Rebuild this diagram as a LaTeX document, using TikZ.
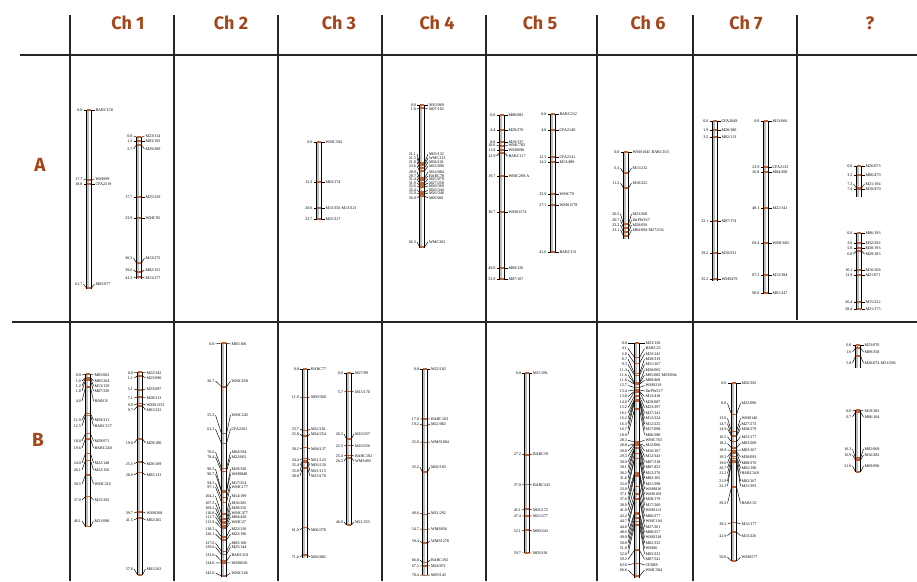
\documentclass[tikz,border=0pt]{standalone}
\usepackage{fontspec}
\setmainfont{Liberation Serif}
\newfontfamily\hdfont{Fira Sans}
\definecolor{hdbrown}{HTML}{A5461A}
\definecolor{mkorange}{HTML}{C2622E}
\newcounter{mkc}
\tikzset{
  tabline/.style={line width=1.1pt,black!85},
  barline/.style={line width=0.55pt,black},
  tickline/.style={line width=0.45pt,black},
  cmlab/.style={inner sep=0pt,font=\fontsize{4.1}{4.1}\selectfont},
  nmlab/.style={inner sep=0pt,font=\fontsize{4.1}{4.1}\selectfont},
  hdlab/.style={inner sep=0pt,text=hdbrown,font=\hdfont\bfseries\fontsize{18}{18}\selectfont},
  rowlab/.style={inner sep=0pt,text=hdbrown,font=\hdfont\bfseries\fontsize{19}{19}\selectfont}
}
% bar: x, top, bottom, scale (px per cM)
\newcommand\chbar[4]{%
  \def\bx{#1}\def\btop{#2}\def\bsc{#4}%
  \fill[gray!50] (#1-2.5,#2) rectangle (#1+2.5,#3);
  \fill[white] (#1+0.4,#2) rectangle (#1+2.5,#3);
  \draw[barline] (#1-2.5,#2) -- (#1-2.5,#3) (#1+2.5,#2) -- (#1+2.5,#3);
}
\newcommand\setoff[2]{\def\lo{#1}\def\ro{#2}}
% explicit tick: ytick, cM, ylabel, name
\newcommand\mkt[4]{%
  \stepcounter{mkc}%
  \fill[mkorange] (\bx-2.2,#1-0.75) rectangle (\bx+2.2,#1+0.75);
  \draw[tickline] (\bx-2.5,#1) -- (\bx-\lo,#3) (\bx+2.5,#1) -- (\bx+\ro,#3);
  \node[cmlab,anchor=east] (c\themkc) at (\bx-\lo-0.8,#3) {#2};
  \node[nmlab,anchor=west] (n\themkc) at (\bx+\ro+0.8,#3) {#4};
}
% linear tick: cM, ylabel, name
\newcommand\mk[3]{%
  \pgfmathsetmacro\yt{\btop+\bsc*#1}%
  \mkt{\yt}{#1}{#2}{#3}%
}
\begin{document}
\begin{tikzpicture}[x=1pt,y=-1pt]
\useasboundingbox (0,0) rectangle (917,581);
\fill[white] (0,0) rectangle (917,581);
% table lines
\draw[tabline] (20,55) -- (917,55);
\draw[tabline] (12,322) -- (917,322);
\foreach \xx in {70,174,278,382,486,597,693} {\draw[tabline] (\xx,15) -- (\xx,581);}
\draw[tabline] (797,15) -- (797,320);
% headers
\node[hdlab] (h1) at (128,23) {Ch 1};
\node[hdlab] (h2) at (231,23) {Ch 2};
\node[hdlab] (h3) at (339,23) {Ch 3};
\node[hdlab] (h4) at (437,23) {Ch 4};
\node[hdlab] (h5) at (540,23) {Ch 5};
\node[hdlab] (h6) at (648,23) {Ch 6};
\node[hdlab] (h7) at (746,23) {Ch 7};
\node[hdlab] (h8) at (870,23) {?};
\node[rowlab] (ra) at (40,165) {A};
\node[rowlab] (rb) at (38,440) {B};

%%%%%%%% ROW A
\setoff{5.5}{5.5}
% Ch1 A
\chbar{89}{110}{289}{1}
\mkt{110}{0.0}{110}{BARC158}
\mkt{180}{17.7}{179}{WMS99}
\mkt{184}{18.8}{184}{CFA2219}
\mkt{288}{61.7}{284}{M05/077}
\chbar{139}{137}{279}{1}
\mkt{137}{0.0}{136}{M23/314}
\mkt{141}{1.3}{141}{M03/192}
\mkt{145}{2.7}{149}{M29/289}
\mkt{197}{17.7}{197}{M25/329}
\mkt{218}{23.9}{218}{WMC93}
\mkt{263}{36.2}{258}{M13/272}
\mkt{272}{39.6}{270}{M02/155}
\mkt{277}{41.3}{278}{M13/277}
% Ch3 A
\chbar{319}{142}{220}{1}
\mkt{142}{0.0}{142}{WMC594}
\mkt{182}{12.3}{182}{M03/174}
\mkt{208}{20.6}{208}{M13/350 M13/321}
\mkt{219}{23.7}{219}{M25/317}
% Ch4 A
\setoff{5}{6}
\chbar{422}{105}{248}{1}
\mkt{105}{0.0}{105}{M10/069}
\mkt{108}{1.0}{109}{M07/162}
\mkt{163}{21.1}{154}{M03/132}
\mkt{165}{21.5}{158}{WMC313}
\mkt{168}{21.8}{162}{M04/101}
\mkt{171}{23.6}{166}{M22/090}
\mkt{178}{28.9}{172}{M14/084}
\mkt{180}{29.7}{176}{BARC78}
\mkt{183}{31.4}{179}{M25/079}
\mkt{185}{31.9}{183}{M27/250}
\mkt{187}{32.6}{186}{M20/369}
\mkt{192}{35.4}{190}{M26/344}
\mkt{194}{35.9}{193}{M26/346}
\mkt{196}{36.0}{198}{M06/061}
\mkt{247}{66.3}{242}{WMC262}
% Ch5 A
\setoff{5.5}{5.5}
\chbar{502}{115}{280}{1}
\mkt{115}{0.0}{115}{M08/082}
\mkt{130}{4.4}{130}{M29/270}
\mkt{142}{8.8}{142}{M19/137}
\mkt{146}{10.6}{145.5}{WMC783}
\mkt{150}{11.8}{150}{WMS096}
\mkt{153}{12.9}{156}{BARC117}
\mkt{176}{19.7}{176}{WMC289-A}
\mkt{212}{30.7}{212}{WMS1574}
\mkt{268}{49.0}{268}{M09/126}
\mkt{279}{52.9}{279}{M07/107}
\chbar{553}{114}{253}{1}
\mkt{114}{0.0}{114}{BARC232}
\mkt{130}{4.8}{130}{CFA2149}
\mkt{157}{12.3}{157}{CFA2141}
\mkt{162}{14.2}{162}{M13/489}
\mkt{194}{23.9}{194}{WMC79}
\mkt{205}{27.1}{205}{WMS1578}
\mkt{252}{41.6}{252}{BARC131}
% Ch6 A
\chbar{626}{152}{239}{1}
\mkt{152}{0.0}{152}{WMS1045 BARC103}
\mkt{173}{6.3}{168}{M11/232}
\mkt{188}{11.2}{183}{M10/222}
\mkt{224}{20.2}{214}{M23/268}
\mkt{228}{20.7}{220}{DuPW167}
\mkt{232}{23.2}{225}{M20/056}
\mkt{236}{23.1}{230}{M04/094 M27/256}
% Ch7 A
\chbar{715}{121}{281}{1}
\mkt{121}{0.0}{121}{CFA2049}
\mkt{130}{1.9}{130}{M28/180}
\mkt{137}{3.5}{137}{M02/113}
\mkt{221}{22.1}{221}{M07/174}
\mkt{253}{29.2}{253}{M10/231}
\mkt{279}{35.2}{279}{WMS479}
\chbar{766}{121}{294}{1}
\mkt{121}{0.0}{121}{M13/066}
\mkt{167}{23.9}{167}{CFA2123}
\mkt{172}{26.8}{172}{M04/208}
\mkt{208}{48.1}{208}{M22/141}
\mkt{243}{69.4}{243}{WMC603}
\mkt{275}{87.2}{275}{M13/384}
\mkt{293}{96.0}{293}{M01/247}
% ? A
\chbar{859}{166}{197}{1}
\mkt{166}{0.0}{166}{M26/073}
\mkt{175}{3.2}{175}{M06/479}
\mkt{188}{7.3}{184}{M21/194}
\mkt{189}{7.4}{189}{M10/470}
\chbar{859}{233}{309}{1}
\mkt{233}{0.0}{233}{M06/193}
\mkt{243}{3.6}{243}{M32/292}
\mkt{248}{5.6}{248}{M30/193}
\mkt{251}{6.8}{254}{M29/183}
\mkt{270}{10.1}{270}{M16/168}
\mkt{275}{13.9}{275}{M21/071}
\mkt{302}{26.4}{302}{M15/222}
\mkt{309}{28.4}{309}{M21/175}

%%%%%%%% ROW B
% Ch1 B
\setoff{6}{5.5}
\chbar{88}{374}{527}{3.31}
\mk{0.0}{375}{M05/062}
\mk{1.0}{381}{M05/264}
\mk{1.2}{386}{M13/159}
\mk{1.8}{391}{M07/336}
\mk{4.0}{401}{BARC8}
\mk{11.9}{420}{M29/311}
\mk{12.5}{426}{BARC137}
\mk{18.0}{441}{M29/071}
\mk{19.6}{448}{BARC240}
\mk{24.0}{463}{M22/148}
\mk{26.1}{470}{M22/156}
\mk{30.5}{484}{WMC216}
\mk{37.0}{500}{M15/292}
\mk{46.1}{521}{M31/090}
\chbar{140}{372}{575}{3.52}
\mk{0.0}{373}{M22/342}
\mk{1.1}{378}{M23/096}
\mk{5.1}{389}{M23/097}
\mk{7.1}{398}{M28/313}
\mk{9.0}{405}{WMS1353}
\mk{9.7}{410}{M01/232}
\mk{19.0}{443}{M29/180}
\mk{25.5}{464}{M26/109}
\mk{28.6}{475}{M02/133}
\mk{39.7}{513}{WMS268}
\mk{41.5}{520}{M02/265}
\mk{57.6}{569}{M01/262}
% Ch2 B
\setoff{8.5}{6.5}
\chbar{224}{343}{577}{1.64}
\mk{0.0}{344}{M05/106}
\mk{26.7}{381}{WMC658}
\mk{55.3}{415}{WMC243}
\mk{61.2}{429}{CFA2201}
\mk{76.6}{452}{M04/594}
\mk{78.4}{457}{M22/062}
\mk{90.3}{469}{M29/336}
\mk{90.7}{474}{WMS848}
\mk{94.3}{483}{M17/254}
\mk{97.1}{487}{WMC177}
\mk{104.2}{496}{M14/199}
\mk{107.3}{503}{M16/205}
\mk{109.2}{508}{M30/256}
\mk{110.0}{513}{WMC477}
\mk{111.7}{517}{M04/420}
\mk{112.9}{522}{WMC27}
\mk{118.2}{529}{M23/120}
\mk{120.1}{534}{M22/196}
\mk{127.0}{543}{M05/160}
\mk{129.0}{547}{M25/144}
\mk{133.0}{555}{BARC101}
\mk{134.0}{563}{WMS620}
\mk{142.0}{573}{WMC166}
% Ch3 B
\setoff{5}{5}
\chbar{305}{369}{558}{2.6}
\mk{0.0}{369}{BARC77}
\mk{11.0}{397}{M09/360}
\mk{23.7}{429}{M22/181}
\mk{25.8}{434}{M24/254}
\mk{30.2}{449}{M04/137}
\mk{34.4}{460}{M21/123}
\mk{35.4}{465}{M03/150}
\mk{35.8}{471}{M21/115}
\mk{38.0}{476}{M13/178}
\mk{61.0}{530}{M06/378}
\mk{71.6}{557}{M26/082}
\chbar{349}{373}{525}{3.24}
\mk{0.0}{373}{M27/99}
\mk{5.7}{392}{M13/170}
\mk{20.3}{434}{M10/257}
\mk{22.3}{446}{M10/256}
\mk{25.4}{456}{BARC102}
\mk{26.2}{461}{WMS493}
\mk{46.9}{522}{M21/255}
% Ch4 B
\chbar{425}{369}{575}{2.93}
\mk{0.0}{369}{M22/182}
\mk{17.0}{419}{BARC163}
\mk{19.2}{424}{M22/082}
\mk{25.0}{442}{WMS1084}
\mk{35.2}{467}{M02/183}
\mk{49.6}{513}{M21/292}
\mk{54.7}{529}{WMS836}
\mk{59.4}{541}{WMS1278}
\mk{66.0}{560}{BARC192}
\mk{67.2}{566}{M24/071}
\mk{70.4}{575}{M29/143}
% Ch5 B
\chbar{527}{373}{553}{3.015}
\mk{0.0}{373}{M15/391}
\mk{27.2}{454}{BARC59}
\mk{37.0}{485}{BARC243}
\mk{45.1}{510}{M03/172}
\mk{47.4}{516}{M23/277}
\mk{52.1}{531}{M09/243}
\mk{59.7}{553}{M03/101}
% Ch6 B
\setoff{9}{7.5}
\chbar{637}{343}{578}{3.5}
\mk{0.0}{343}{M23/158}
\mk{4.1}{348.5}{BARC23}
\mk{5.8}{353.8}{M23/141}
\mk{8.7}{359}{M30/319}
\mk{9.3}{364.5}{M21/167}
\mk{11.4}{369.7}{M28/065}
\mk{11.6}{375}{M05/082 M29/084}
\mk{11.8}{380.2}{M09/468}
\mk{12.7}{385.6}{WMS219}
\mk{13.4}{391}{DuPW217}
\mk{13.8}{396.4}{M13/418}
\mk{14.0}{401.8}{M29/087}
\mk{15.2}{407.6}{M23/397}
\mk{16.1}{413}{M27/141}
\mk{16.2}{418.4}{M12/224}
\mk{16.3}{423.8}{M12/225}
\mk{16.7}{429.3}{M17/098}
\mk{18.9}{434.7}{M06/288}
\mk{28.3}{440.2}{WMC763}
\mk{28.8}{445.6}{M12/066}
\mk{28.8}{451}{M16/167}
\mk{29.3}{456.6}{M12/343}
\mk{30.0}{462.1}{M07/318}
\mk{30.1}{467.4}{M07/453}
\mk{30.2}{472.9}{M12/276}
\mk{31.6}{478.3}{M02/105}
\mk{33.0}{483.7}{M21/398}
\mk{33.0}{489}{WMS816}
\mk{37.1}{494.4}{WMS169}
\mk{37.6}{499.6}{M28/179}
\mk{38.0}{505}{M17/260}
\mk{41.0}{510.5}{WMS112}
\mk{43.2}{516}{M06/277}
\mk{44.7}{521.4}{WMC104}
\mk{44.6}{527}{M27/261}
\mk{48.6}{532.3}{M08/257}
\mk{49.0}{537.5}{WMS318}
\mk{50.0}{542.8}{M02/332}
\mk{51.0}{548.3}{WMS6}
\mk{52.0}{554}{M03/222}
\mk{59.2}{559.4}{M07/541}
\mk{63.0}{564.8}{CFD88}
\mk{66.6}{570.2}{WMC304}
% Ch7 B
\setoff{6.5}{6.5}
\chbar{734}{383}{561}{3.56}
\mk{0.0}{383}{M26/392}
\mk{8.8}{403.3}{M22/096}
\mk{13.6}{418.3}{WMS146}
\mk{14.7}{423.7}{M27/273}
\mk{14.9}{428.7}{M28/279}
\mk{16.5}{436.7}{M23/177}
\mk{18.2}{443.3}{M03/209}
\mk{18.9}{450}{M03/167}
\mk{19.3}{457}{M30/093}
\mk{19.6}{463}{M08/270}
\mk{20.7}{468}{M02/190}
\mk{21.2}{473.3}{BARC349}
\mk{21.9}{481}{M02/167}
\mk{22.3}{486}{M31/393}
\mk{29.2}{503.3}{BARC32}
\mk{39.2}{524}{M12/177}
\mk{41.9}{535.7}{M13/226}
\mk{50.0}{557.3}{WMS577}
% ? B
\setoff{5.5}{5.5}
\chbar{858}{345}{368}{1.9}
\mk{0.0}{345}{M23/070}
\mk{1.6}{352}{M09/358}
\mk{5.8}{363}{M20/074 M31/286}
\chbar{858}{410}{472}{2.95}
\mk{0.0}{411}{M19/183}
\mk{0.7}{417}{M06/104}
\mk{16.3}{449}{M02/069}
\mk{16.9}{455}{M16/282}
\mk{21.0}{466}{M09/096}
\end{tikzpicture}
\end{document}
